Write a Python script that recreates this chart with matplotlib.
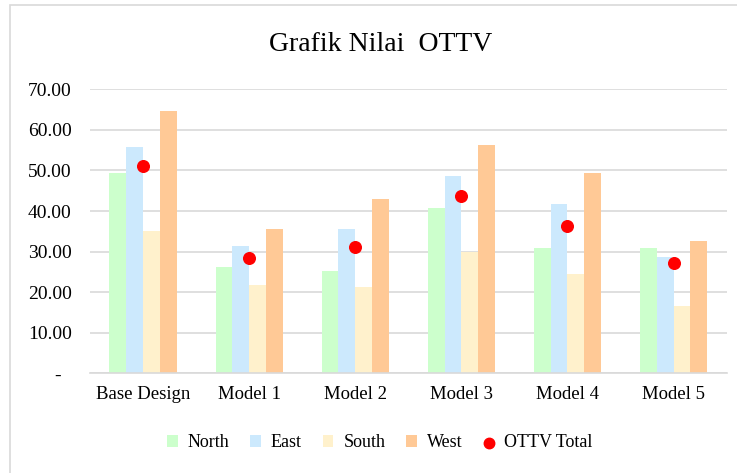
import numpy as np
import matplotlib.pyplot as plt
from matplotlib.patches import Rectangle

categories = ['Base Design', 'Model 1', 'Model 2', 'Model 3', 'Model 4', 'Model 5']
north = [49.5, 26.1, 25.2, 40.8, 30.9, 30.9]
east = [55.9, 31.4, 35.6, 48.6, 41.7, 28.7]
south = [35.1, 21.8, 21.3, 29.9, 24.4, 16.6]
west = [64.6, 35.6, 43.0, 56.4, 49.5, 32.6]
ottv_total = [51.0, 28.5, 31.2, 43.6, 36.3, 27.1]

series = [('North', north, '#ccffcc'),
          ('East', east, '#cce9fd'),
          ('South', south, '#fff1cc'),
          ('West', west, '#ffc996')]

plt.rcParams['font.family'] = ['Liberation Serif', 'DejaVu Serif']

fig = plt.figure(figsize=(7.37, 4.73), dpi=100)
ax = fig.add_axes([0.122, 0.211, 0.864, 0.600])

# light border around the chart area
fig.patches.append(Rectangle((10 / 737, -0.01), 1.0, 1.0 - 5 / 473 + 0.01,
                             transform=fig.transFigure, fill=False,
                             edgecolor='#d9d9d9', linewidth=1.2))

x = np.arange(len(categories))
width = 0.158
handles = []
for i, (name, vals, color) in enumerate(series):
    h = ax.bar(x + (i - 1.5) * width, vals, width, color=color, label=name, zorder=2)
    handles.append(h)
h = ax.scatter(x, ottv_total, s=70, color='#ff0000', label='OTTV Total', zorder=3)
handles.append(h)

ax.set_xlim(-0.5, len(categories) - 0.5)
ax.set_ylim(0, 70)
ax.set_yticks(np.arange(0, 71, 10))
ax.set_yticklabels(['-  '] + ['%.2f' % v for v in np.arange(10, 71, 10)])
ax.set_xticks(x)
ax.set_xticklabels(categories)
ax.tick_params(axis='both', length=0)
ax.tick_params(axis='y', pad=13, labelsize=14)
ax.tick_params(axis='x', pad=9, labelsize=13.5)
ax.yaxis.grid(True, color='#d9d9d9', linewidth=1.2, zorder=0)
ax.set_axisbelow(True)
for side in ['top', 'right', 'left']:
    ax.spines[side].set_visible(False)
ax.spines['bottom'].set_color('#d9d9d9')
ax.spines['bottom'].set_linewidth(1.2)

fig.text(0.517, 0.905, 'Grafik Nilai  OTTV', ha='center', va='center', fontsize=20)

fig.legend(handles, [h.get_label() for h in handles], loc='center',
           bbox_to_anchor=(0.515, 0.064), ncol=5,
           frameon=False, fontsize=13, handlelength=0.6, handleheight=0.6,
           handletextpad=0.55, columnspacing=1.15, markerscale=0.9)

fig.savefig('out.png', dpi=100)
